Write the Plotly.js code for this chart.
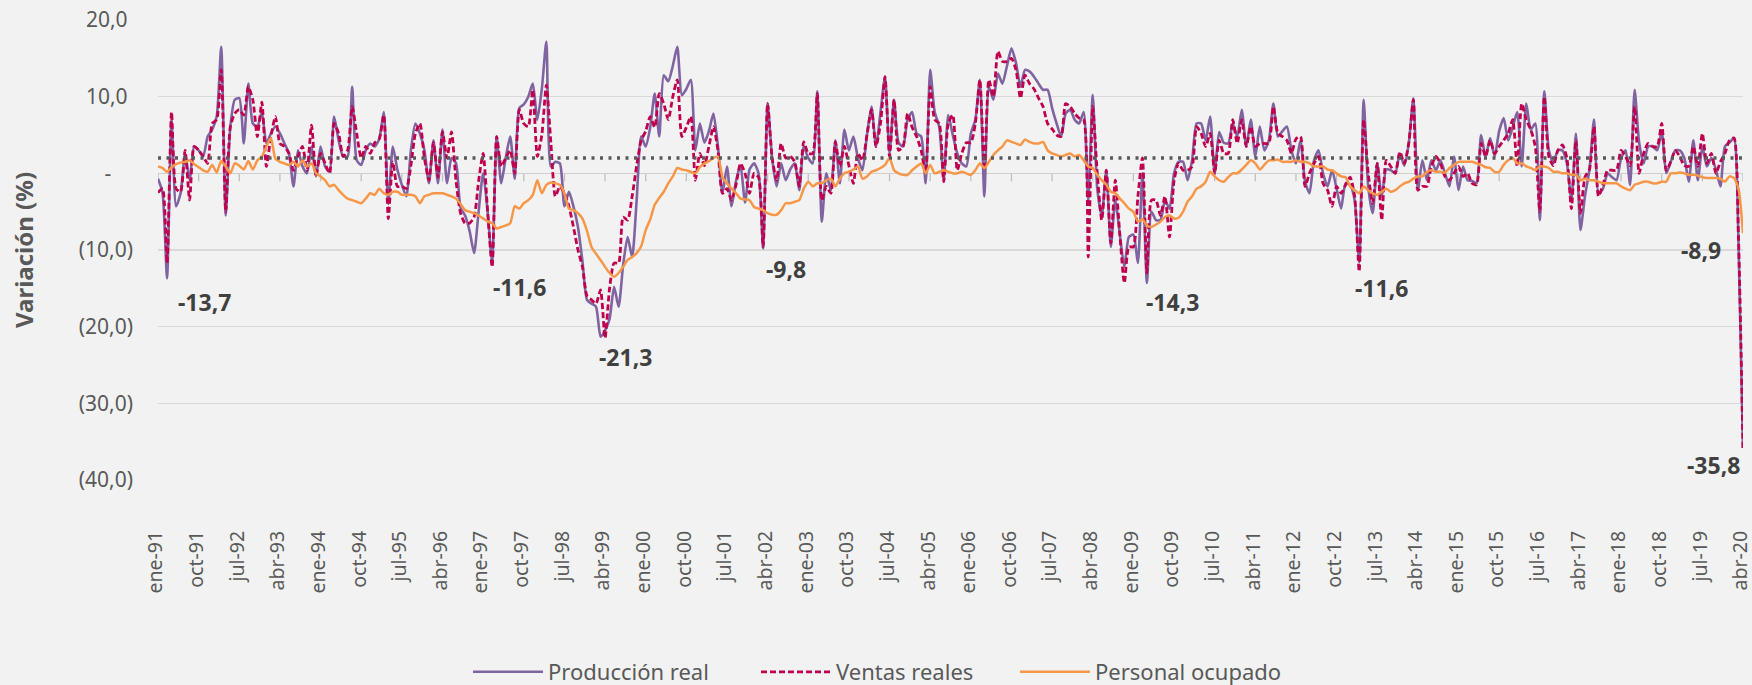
<!DOCTYPE html>
<html><head><meta charset="utf-8">
<script src="https://cdn.plot.ly/plotly-3.0.1.min.js"></script>
<style>html,body{margin:0;padding:0;background:#f2f2f2}#chart{width:1752px;height:685px}</style>
</head><body><div id="chart"></div>
<script>
// Category labels (monthly, ene-91 .. abr-20)
const monthNames = ['ene','feb','mar','abr','may','jun','jul','ago','sep','oct','nov','dic'];
const startYear = 1991;
const nMonths = 352;
const categories = [];
for (let i = 0; i < nMonths; i++) {
  const yy = (startYear + Math.floor(i / 12)) % 100;
  categories.push(monthNames[i % 12] + '-' + String(yy).padStart(2, '0'));
}
const tickStep = 9;

const seriesNames = ['Producción real', 'Ventas reales', 'Personal ocupado'];

// Producción real (variación anual %)
const produccion = [
 -0.7,-2.5,-13.7,7.0,-4.3,-2.6,2.6,-0.9,3.5,3.0,2.2,4.8,
 5.7,7.4,16.5,-5.5,6.0,9.6,9.8,3.9,11.7,6.5,6.1,8.0,
 3.9,5.2,6.1,5.2,3.9,2.6,-1.7,3.0,0.9,0.0,3.5,-0.4,
 3.5,0.9,0.2,7.4,4.3,2.2,2.2,11.3,1.7,1.1,3.0,3.9,
 3.5,4.5,8.0,-4.0,3.5,0.5,-1.5,-3.0,3.0,6.5,5.2,3.0,
 -1.3,4.3,-1.3,5.7,-1.3,2.0,1.3,-4.5,-5.5,-7.5,-10.4,-5.0,
 0.0,-5.0,-11.6,4.8,-1.3,2.0,4.8,-0.7,8.5,9.0,10.0,11.7,
 7.0,11.0,17.2,0.9,1.5,1.3,-4.3,-2.4,-4.3,-7.0,-11.5,-16.5,
 -17.0,-17.4,-21.3,-20.5,-19.0,-14.8,-17.4,-12.0,-8.3,-10.9,-3.5,4.8,
 3.5,6.0,10.4,4.8,12.8,12.0,14.0,16.5,10.2,11.0,12.2,3.0,
 6.5,4.0,5.5,7.8,3.5,-2.6,0.9,-4.3,-1.0,1.0,-3.8,0.5,
 1.3,0.0,-9.8,9.1,2.0,-1.7,1.3,-0.9,0.5,1.3,-2.2,3.5,
 2.0,1.3,10.7,-6.3,0.0,-2.2,4.3,-1.3,5.7,3.0,4.8,2.0,
 0.4,5.0,8.7,3.5,8.0,12.6,2.6,9.6,4.0,3.5,7.0,8.0,
 5.2,4.8,-1.3,13.5,8.0,6.1,-0.9,7.6,5.0,2.6,1.3,0.9,
 5.2,7.0,12.2,-3.0,11.3,9.6,13.0,11.7,14.0,16.3,14.4,11.3,
 13.5,13.3,12.6,11.7,10.9,10.9,8.5,6.5,4.8,7.8,8.3,7.0,
 6.5,8.0,-3.5,10.2,-2.0,-5.5,0.4,-9.6,-3.5,-8.0,-12.2,-8.3,
 -8.0,-11.7,0.0,-14.3,-5.0,-6.1,-6.1,-3.5,-4.6,0.0,1.5,1.5,
 -0.9,1.7,6.5,6.5,4.3,7.4,0.0,5.4,4.0,3.9,6.5,4.8,
 8.3,3.5,7.0,2.2,6.1,3.0,4.3,9.1,4.8,5.5,6.1,3.0,
 1.3,4.3,-1.0,-2.6,1.7,3.0,0.0,-1.7,0.4,-2.0,-4.6,-1.3,
 -1.5,-3.5,-11.6,9.6,-1.7,-5.2,1.3,-3.0,0.5,0.4,0.0,2.6,
 1.0,4.0,9.8,-2.2,1.7,-0.9,1.7,0.4,1.7,0.0,-1.7,2.2,
 -2.2,0.9,-0.9,-1.0,-1.3,5.0,2.2,4.6,2.2,5.5,7.2,4.3,
 6.0,8.0,0.9,9.1,5.7,6.5,-6.1,10.7,3.0,1.3,3.0,3.0,
 1.3,-3.5,5.2,-7.4,-3.0,0.5,7.0,-2.6,-2.0,0.0,-0.5,-0.9,
 2.0,3.0,-1.5,10.9,4.0,1.3,3.5,3.5,3.0,5.4,0.0,1.5,
 3.0,3.0,2.0,-1.1,4.3,-0.9,3.5,0.9,2.0,0.5,-1.7,3.5,
 4.0,4.6,-8.9,-35.8
];

// Ventas reales (variación anual %)
const ventas = [
 -2.5,-2.0,-11.7,8.0,-2.0,-2.4,3.0,-3.5,3.5,3.0,2.2,1.3,
 6.5,7.0,13.5,-5.0,6.0,7.8,8.3,7.6,11.3,9.6,4.8,9.3,
 0.9,4.8,7.4,3.9,3.5,2.6,0.4,2.2,3.5,0.4,6.3,-0.4,
 2.6,1.3,0.0,6.5,5.2,2.2,3.0,8.7,5.2,2.0,3.5,2.6,
 4.0,4.5,7.6,-5.9,1.5,-1.7,-1.7,-2.0,1.0,5.2,6.5,2.0,
 -0.9,4.0,-0.5,5.4,2.0,5.4,-1.0,-5.2,-6.5,-6.5,-5.7,-1.0,
 2.6,-5.0,-12.2,4.8,0.9,2.0,3.0,0.0,8.3,6.5,6.1,10.9,
 2.2,5.0,11.5,4.0,-3.0,-1.7,-2.6,-4.3,-7.0,-10.0,-12.2,-16.0,
 -16.5,-17.0,-15.2,-21.5,-15.0,-11.7,-11.7,-5.7,-6.1,-3.0,1.0,4.3,
 5.5,7.4,6.0,10.4,9.1,7.0,10.0,12.2,4.8,6.0,7.4,-0.9,
 2.6,1.0,3.5,6.1,3.0,-2.6,-2.0,-3.5,-1.5,1.3,0.0,-2.6,
 0.0,-0.5,-9.6,9.1,2.0,-0.9,3.9,2.0,2.2,1.5,-1.7,4.1,
 2.6,2.6,10.4,-3.5,-1.7,-2.6,4.1,0.9,3.5,1.0,-1.3,2.6,
 1.7,5.0,8.3,3.5,6.5,12.6,2.2,9.6,3.0,3.5,7.8,6.0,
 4.8,3.0,0.0,11.3,7.0,6.5,-1.1,6.5,7.6,0.4,2.6,4.0,
 4.0,6.5,12.2,0.4,12.2,10.0,15.9,14.6,14.6,15.0,13.5,9.8,
 12.8,11.7,11.0,9.8,8.7,6.5,5.8,5.0,4.8,9.1,8.7,7.8,
 7.2,7.0,-10.9,8.7,0.0,-6.1,0.4,-9.1,-0.9,-8.0,-14.3,-9.6,
 -9.6,-3.0,2.0,-13.0,-3.5,-3.5,-5.5,-3.0,-8.3,-1.0,1.3,0.4,
 0.4,0.9,6.1,5.2,3.5,5.2,0.0,4.3,2.6,2.6,7.0,3.9,
 7.0,3.5,6.1,3.5,3.9,3.9,3.9,8.7,5.2,4.8,4.3,2.6,
 4.5,4.8,-1.7,0.0,1.3,2.2,-1.3,-2.2,-4.3,-1.7,-2.6,-1.5,
 -0.5,-3.0,-12.8,7.0,0.0,-3.9,1.3,-6.1,1.7,0.9,0.0,2.8,
 1.3,4.0,9.6,-2.2,-1.7,-1.7,0.9,2.2,1.3,-0.4,-0.9,0.0,
 0.9,-0.4,0.0,-1.3,-1.5,3.9,2.2,4.3,2.6,3.5,4.3,5.2,
 7.0,0.9,9.1,7.0,5.7,3.5,-5.0,10.0,2.2,1.0,3.0,3.7,
 2.0,-4.6,4.3,-5.2,-0.5,0.5,6.1,-3.0,-1.5,0.4,0.4,0.4,
 3.0,2.2,1.0,8.7,0.0,2.6,3.9,3.5,3.5,6.5,0.4,1.5,
 3.0,2.2,1.0,0.9,3.5,0.9,5.2,1.3,2.6,0.0,1.5,2.6,
 4.3,4.6,-8.4,-36.0
];

// Personal ocupado (variación anual %)
const personal = [
 0.9,0.7,0.2,0.8,1.2,1.4,1.5,1.7,1.2,0.8,0.4,0.2,
 1.1,0.1,1.6,0.9,0.0,1.3,1.0,0.5,1.6,0.5,1.7,2.2,
 3.5,4.6,1.9,1.5,1.3,1.1,1.5,0.9,1.7,0.9,1.3,0.0,
 -0.4,-0.9,-1.7,-1.5,-2.2,-2.8,-3.3,-3.5,-3.7,-3.9,-3.3,-2.6,
 -2.8,-2.0,-2.6,-2.8,-2.4,-2.4,-2.8,-2.8,-2.8,-3.0,-3.9,-3.0,
 -2.8,-2.6,-2.6,-2.6,-2.8,-3.0,-3.3,-4.0,-4.8,-5.0,-5.2,-5.5,
 -5.9,-6.3,-6.5,-7.2,-7.0,-6.8,-6.5,-4.3,-4.6,-3.9,-3.5,-2.8,
 -0.9,-2.6,-1.5,-1.2,-1.3,-1.5,-2.6,-4.6,-4.8,-5.2,-5.9,-7.5,
 -9.6,-10.5,-11.3,-12.2,-13.0,-13.5,-13.0,-12.2,-11.3,-10.9,-10.4,-9.5,
 -7.4,-6.0,-4.1,-3.2,-2.4,-1.3,-0.4,0.7,0.5,0.4,0.2,0.0,
 0.8,1.3,1.6,2.0,2.2,-0.5,-1.3,-2.0,-2.6,-3.3,-3.4,-3.5,
 -4.4,-4.6,-4.8,-5.2,-5.4,-5.4,-4.8,-3.9,-3.9,-3.7,-3.5,-2.0,
 -1.1,-1.7,-1.3,-1.3,-0.9,-0.7,-1.7,-0.7,0.0,0.2,0.5,0.9,
 -0.7,-0.4,0.2,0.4,0.7,1.1,2.0,0.4,0.0,-0.2,-0.2,0.4,
 0.9,1.3,0.0,1.1,0.0,0.2,0.4,0.2,0.0,0.0,0.2,0.0,
 -0.2,0.4,1.3,0.7,1.5,2.4,3.0,3.5,4.3,4.1,3.9,3.7,
 4.4,4.1,3.9,3.9,4.1,3.0,2.6,2.4,2.2,2.4,2.6,2.2,
 2.4,1.7,0.9,0.7,-0.2,-0.9,-1.5,-2.4,-2.6,-3.3,-3.9,-4.6,
 -5.0,-6.3,-6.0,-6.8,-7.0,-6.7,-6.3,-5.7,-5.5,-5.9,-5.8,-5.0,
 -3.7,-3.0,-2.0,-1.7,-1.1,0.2,-0.4,-0.9,-1.1,-0.5,0.0,0.0,
 0.5,1.1,1.7,1.3,0.5,1.1,1.7,1.7,1.8,1.5,1.5,1.5,
 1.7,1.5,1.5,1.3,0.9,0.9,0.9,0.5,0.4,0.0,-0.4,-0.5,
 -1.7,-2.2,-2.6,-1.7,-2.2,-2.6,-2.8,-2.4,-2.0,-2.4,-2.2,-1.7,
 -1.3,-1.1,-0.7,-0.4,-0.4,0.2,0.4,0.2,0.2,0.1,0.7,1.1,
 1.5,1.5,1.5,1.5,1.3,1.1,0.8,0.7,0.2,0.2,1.1,1.7,
 2.0,1.3,1.3,0.9,0.7,0.4,0.9,0.9,0.7,0.2,0.2,0.0,
 0.0,-0.2,-0.2,-0.9,-0.7,-0.9,-0.9,-1.1,-1.3,-1.3,-1.3,-1.3,
 -1.7,-2.0,-2.2,-1.5,-1.3,-1.1,-1.1,-1.3,-1.3,-1.1,-1.1,0.0,
 0.0,0.1,0.0,-0.2,-0.2,-0.3,-0.5,-0.6,-0.6,-0.6,-0.7,-1.1,
 -0.4,-0.6,-2.0,-7.8
];

// Reference (dotted) level
const promedio = 2.0;

// Y-axis ticks
const yTickVals = [20, 10, 0, -10, -20, -30, -40];
const yTickText = ['20,0\u00a0', '10,0\u00a0', '-\u00a0\u00a0\u00a0\u00a0', '(10,0)', '(20,0)', '(30,0)', '(40,0)'];

// Labelled points of Producción real (month index) and label offsets in px
const labelIdx = [2, 74, 98, 134, 219, 266, 350, 351];
const labelOffset = [[37,24],[27,25],[25,20],[23,21],[26,19],[22,26],[-37,8],[-30,17]];

const tickIdx = categories.map((c, i) => i).filter(i => i % tickStep === 0);
const fmt = v => v.toFixed(1).replace('.', ',');

// styles
const colors = ['#8064a2', '#c0004e', '#f79646'];
const widths = [2.6, 2.8, 2.5];
const dashes = ['solid', '6px,3px', 'solid'];
const legendWidths = [203, 174, 200];

const traces = [produccion, ventas, personal].map((ys, k) => ({
  x: categories, y: ys, type: 'scatter', mode: 'lines', name: seriesNames[k],
  legendwidth: legendWidths[k],
  line: {color: colors[k], width: widths[k], dash: dashes[k], shape: 'spline', smoothing: 0.6}
}));
traces.push({x: [categories[0], categories[nMonths - 1]], y: [promedio, promedio], type: 'scatter', mode: 'lines',
   showlegend: false, hoverinfo: 'skip', name: 'Promedio',
   line: {color: '#595959', width: 3.5, dash: '3px,5.5px'}});

const annotations = labelIdx.map((idx, k) => ({
  x: idx, y: produccion[idx], xref: 'x', yref: 'y',
  text: '<b>' + fmt(produccion[idx]) + '</b>', showarrow: false,
  xshift: labelOffset[k][0], yshift: -labelOffset[k][1],
  font: {size: 23, color: '#404040'}
}));

const shapes = tickIdx.map(i => ({
  type: 'line', xref: 'x', yref: 'y', x0: i, x1: i,
  ysizemode: 'pixel', yanchor: 0, y0: 0, y1: -8,
  line: {color: '#bfbfbf', width: 1.3}, layer: 'below'
}));

const layout = {
  width: 1752, height: 685,
  paper_bgcolor: '#f2f2f2', plot_bgcolor: '#f2f2f2',
  margin: {l: 158, r: 9, t: 20, b: 205},
  font: {family: '"Noto Sans", "Open Sans", sans-serif', color: '#595959'},
  xaxis: {
    type: 'category', range: [0, nMonths - 1],
    tickmode: 'array', tickvals: tickIdx.map(i => categories[i]), ticktext: tickIdx.map(i => categories[i]),
    tickangle: -90, tickfont: {size: 19.5, color: '#595959'}, ticklabelshift: -2,
    showgrid: false, zeroline: false, showline: false, ticks: '', ticklabelstandoff: 46
  },
  yaxis: {
    range: [-40, 20], tickmode: 'array', tickvals: yTickVals, ticktext: yTickText,
    tickfont: {size: 21, color: '#595959'},
    gridcolor: '#d9d9d9', gridwidth: 1.3,
    zeroline: true, zerolinecolor: '#cfcfcf', zerolinewidth: 1.5,
    ticks: '', ticklabelstandoff: 24,
    title: {text: '<b>Variación (%)</b>', font: {size: 24, color: '#595959'}, standoff: 38}
  },
  showlegend: true,
  legend: {
    orientation: 'h', xref: 'container', yref: 'container',
    x: 468 / 1752, xanchor: 'left', y: 1 - 672 / 685, yanchor: 'middle',
    font: {size: 22, color: '#595959'}, bgcolor: 'rgba(0,0,0,0)',
    itemwidth: 70, tracegroupgap: 0
  },
  annotations: annotations,
  shapes: shapes
};

Plotly.newPlot('chart', traces, layout, {displayModeBar: false, staticPlot: true});
</script>
</body></html>
